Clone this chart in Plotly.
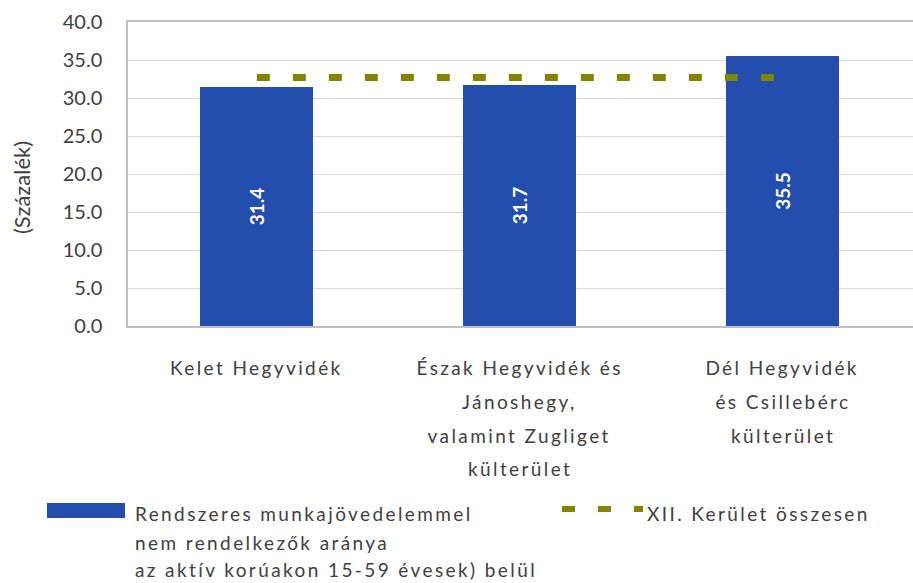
import plotly.graph_objects as go

# --- data -------------------------------------------------------------
category_lines = [
    ["Kelet Hegyvidék"],
    ["Észak Hegyvidék és", "Jánoshegy,", "valamint Zugliget", "külterület"],
    ["Dél Hegyvidék", "és Csillebérc", "külterület"],
]
categories = [" ".join(lines) for lines in category_lines]
share_values = [31.4, 31.7, 35.5]          # Rendszeres munkajövedelemmel nem rendelkezők aránya
district_total = 32.7                      # XII. Kerület összesen
y_ticks = [0, 5, 10, 15, 20, 25, 30, 35, 40]

bar_name_lines = [
    "Rendszeres munkajövedelemmel",
    "nem rendelkezők aránya",
    "az aktív korúakon 15-59 évesek) belül",
]
line_name = "XII. Kerület összesen"
y_title = "(Százalék)"

# --- style ------------------------------------------------------------
W, H = 913, 583
PL, PR, PT, PB = 128, 913, 22, 326        # plot box in pixels
BAR_COLOR = "#244EAD"
LINE_COLOR = "#848400"
TEXT_COLOR = "#404040"
FONT = "Lato"
LETTER_SPACING = "2.4px"


def px_x(x):
    return (x - PL) / (PR - PL)


def px_y(y):
    return (PB - y) / (PB - PT)


fig = go.Figure()

fig.add_trace(go.Bar(
    x=categories,
    y=share_values,
    width=0.43,
    name=" ".join(bar_name_lines),
    marker=dict(color=BAR_COLOR, line=dict(width=0)),
    text=[f"{v:.1f}" for v in share_values],
    textposition="inside",
    insidetextanchor="middle",
    textangle=-90,
    textfont=dict(family=FONT, size=19, color="white", weight="bold"),
    showlegend=False,
))

fig.add_trace(go.Scatter(
    x=categories,
    y=[district_total] * len(categories),
    mode="lines",
    name=line_name,
    line=dict(color=LINE_COLOR, width=7, dash="13px,23px"),
    showlegend=False,
))

annotations = []
# multi-line category labels under the axis
line_centers = [367, 401, 435, 468]
for cat, lines in zip(categories, category_lines):
    for i, txt in enumerate(lines):
        annotations.append(dict(
            x=cat, xref="x", y=px_y(line_centers[i]), yref="paper",
            text=txt, showarrow=False, xanchor="center", yanchor="middle",
            font=dict(family=FONT, size=19, color=TEXT_COLOR),
        ))

# legend texts
legend_line_centers = [513, 542, 569]
for i, txt in enumerate(bar_name_lines):
    annotations.append(dict(
        x=px_x(133), xref="paper", y=px_y(legend_line_centers[i]), yref="paper",
        text=txt, showarrow=False, xanchor="left", yanchor="middle", align="left",
        font=dict(family=FONT, size=19, color=TEXT_COLOR),
    ))
annotations.append(dict(
    x=px_x(645), xref="paper", y=px_y(513), yref="paper",
    text=line_name, showarrow=False, xanchor="left", yanchor="middle", align="left",
    font=dict(family=FONT, size=19, color=TEXT_COLOR),
))

# y-axis title (kept last: no extra letter spacing)
annotations.append(dict(
    x=px_x(21), xref="paper", y=px_y(188), yref="paper",
    text=y_title, textangle=-90, showarrow=False,
    xanchor="center", yanchor="middle",
    font=dict(family=FONT, size=22, color=TEXT_COLOR),
))
n_spaced = len(annotations) - 1

shapes = [
    # legend key: bar
    dict(type="rect", xref="paper", yref="paper",
         x0=px_x(47), x1=px_x(125), y0=px_y(518), y1=px_y(503),
         fillcolor=BAR_COLOR, line=dict(width=0)),
    # legend key: dashed line
    dict(type="line", xref="paper", yref="paper",
         x0=px_x(562), x1=px_x(643), y0=px_y(509), y1=px_y(509),
         line=dict(color=LINE_COLOR, width=6, dash="13px,23px")),
]

fig.update_layout(
    width=W, height=H,
    margin=dict(l=PL, r=W - PR, t=PT, b=H - PB, pad=0),
    plot_bgcolor="white", paper_bgcolor="white",
    font=dict(family=FONT, color=TEXT_COLOR),
    showlegend=False,
    annotations=annotations,
    shapes=shapes,
    bargap=0,
)

fig.update_xaxes(
    type="category",
    range=[-0.49, 2.495],
    showticklabels=False,
    showgrid=False,
    showline=True, linecolor="#BFBFBF", linewidth=1.5,
    mirror=True,
    ticks="",
)

fig.update_yaxes(
    range=[0, 40],
    tickvals=y_ticks,
    tickformat=".1f",
    tickfont=dict(family=FONT, size=20, color=TEXT_COLOR),
    ticklabelstandoff=20,
    showgrid=True, gridcolor="#D9D9D9", gridwidth=1,
    zeroline=False,
    showline=True, linecolor="#BFBFBF", linewidth=1.5,
    ticks="",
)

# widen the tracking of the category and legend labels
spacing_js = """
var gd = document.getElementById('{plot_id}');
gd.querySelectorAll('g.annotation').forEach(function (g) {
  var idx = parseInt(g.getAttribute('data-index'), 10);
  if (idx < %d) {
    g.querySelectorAll('text.annotation-text').forEach(function (t) {
      t.style.letterSpacing = '%s';
    });
  }
});
""" % (n_spaced, LETTER_SPACING)

fig.write_html("out.html", post_script=spacing_js)
